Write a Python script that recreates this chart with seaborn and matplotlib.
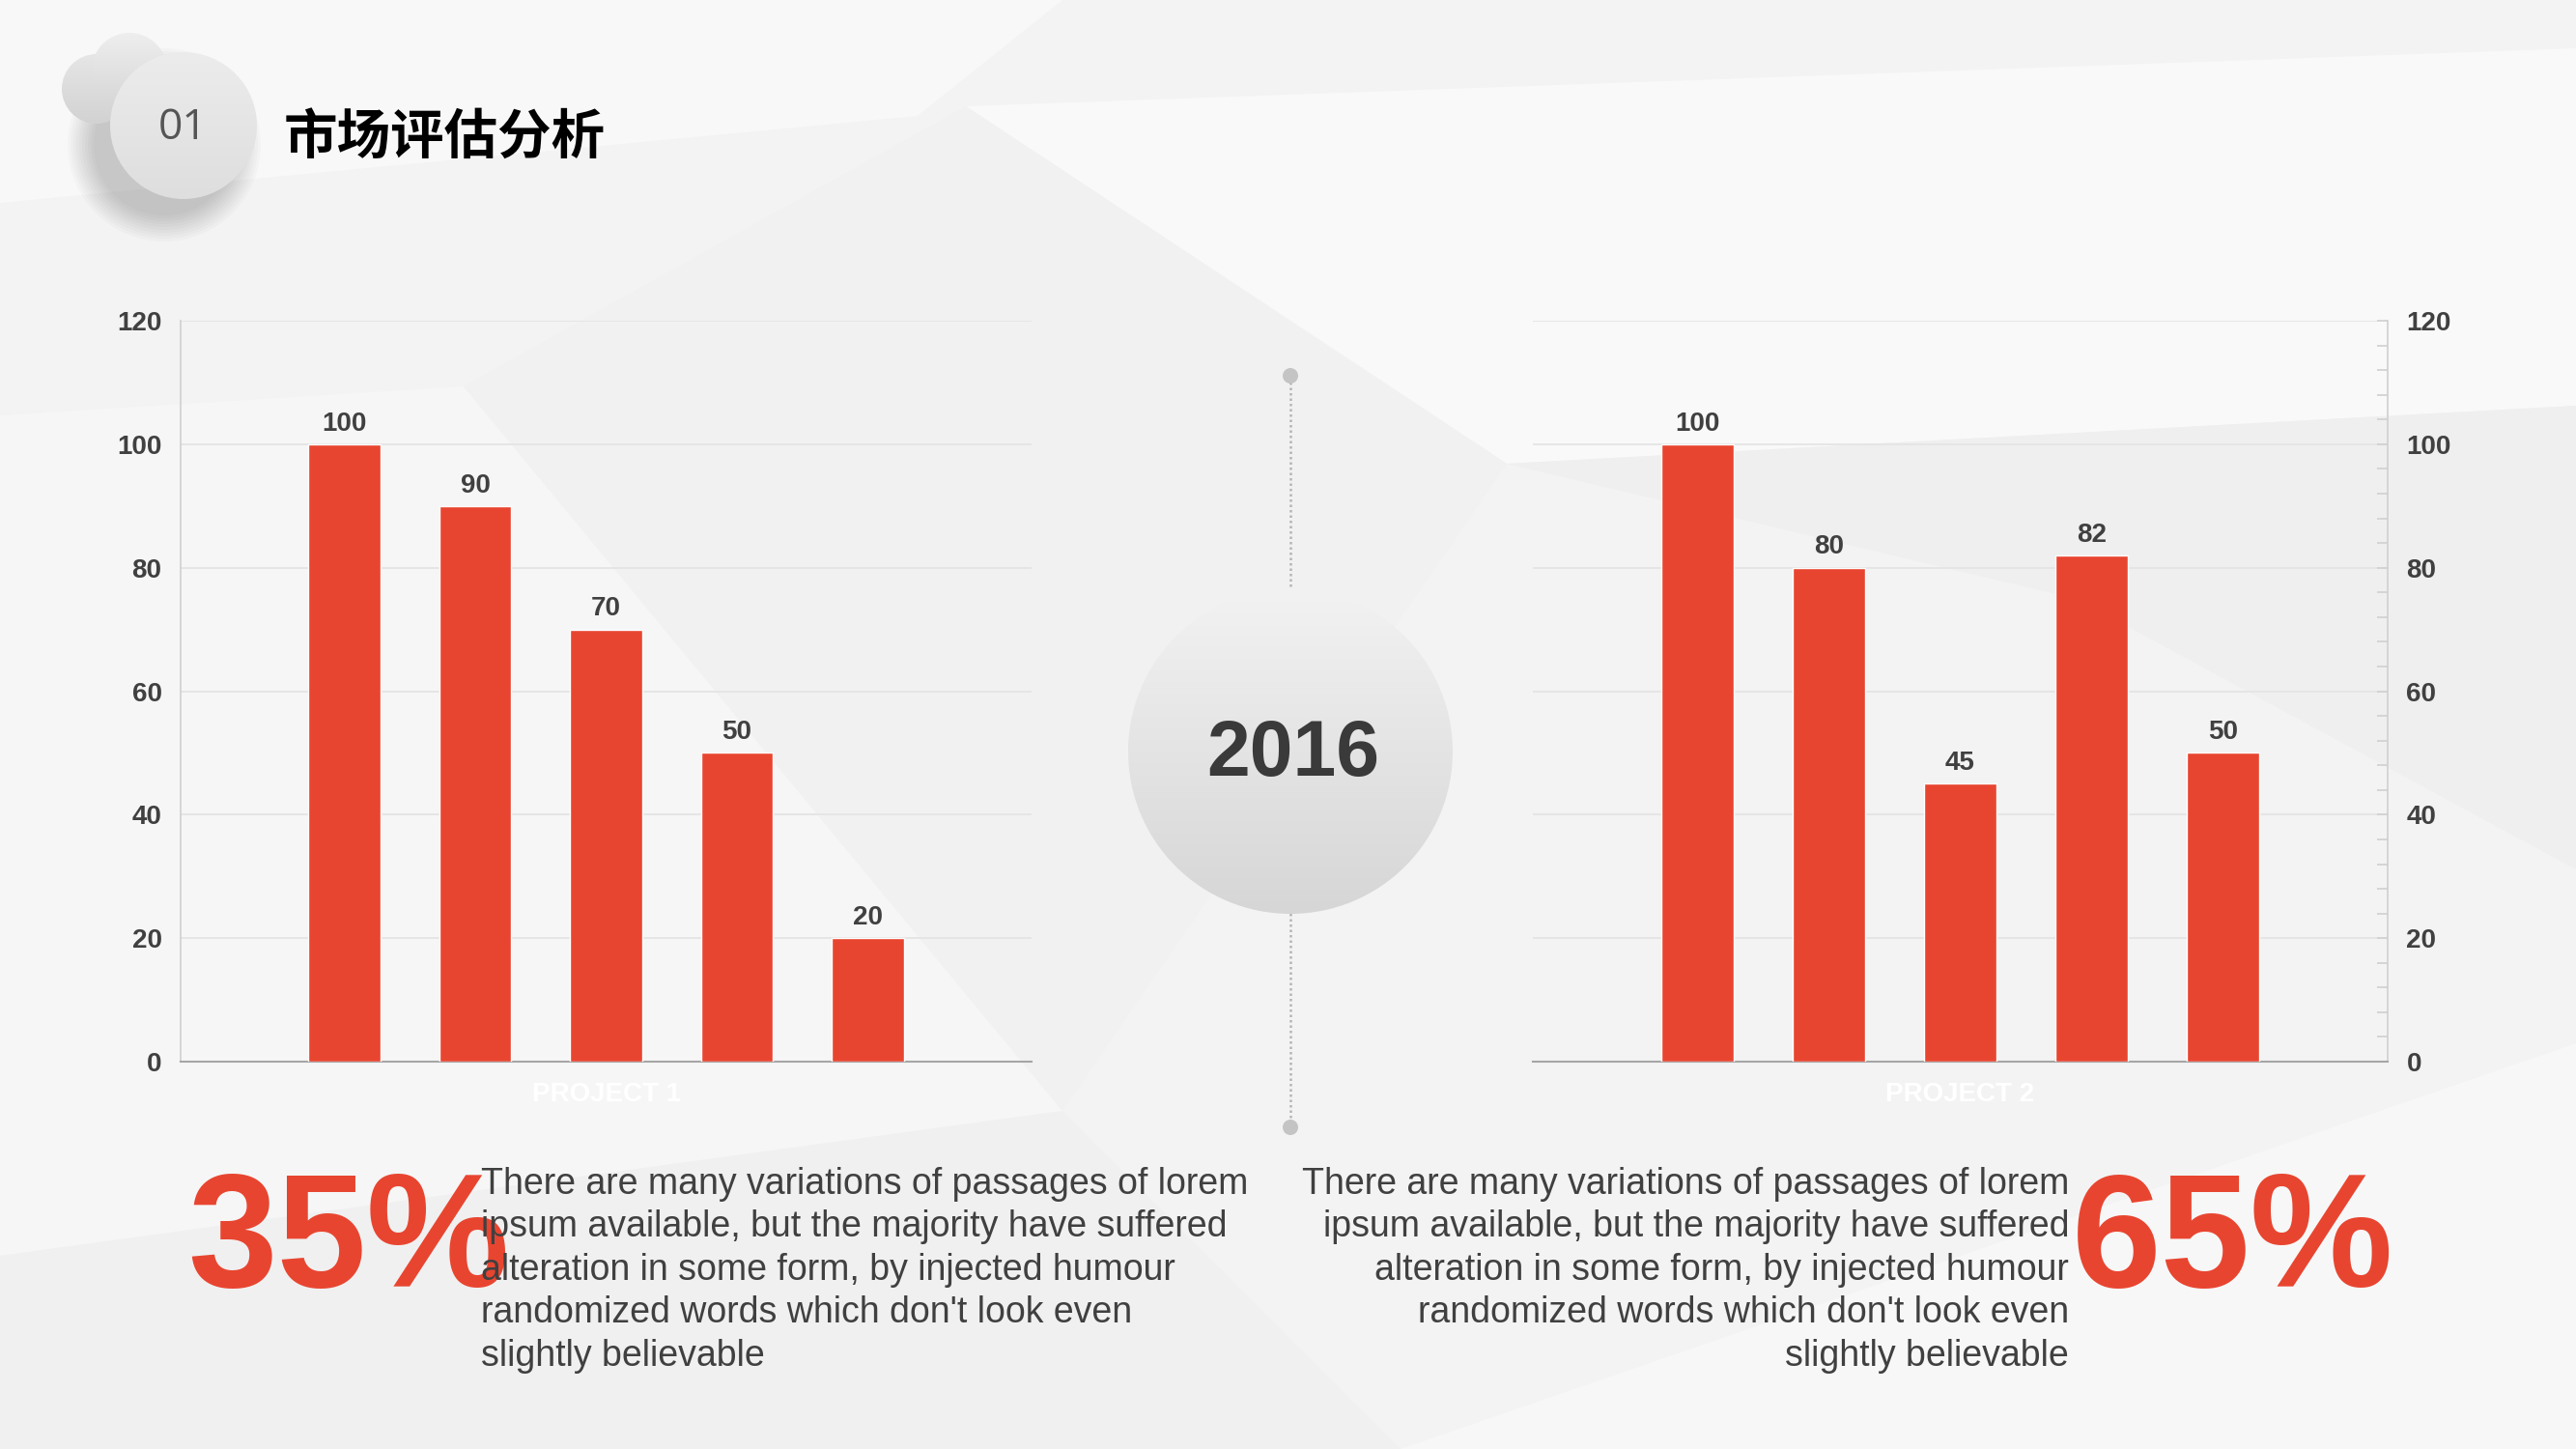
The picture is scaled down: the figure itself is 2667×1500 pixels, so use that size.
import numpy as np
import matplotlib
matplotlib.use('Agg')
import matplotlib.pyplot as plt
import seaborn as sns
from matplotlib.patches import Circle, Polygon
from matplotlib.colors import LinearSegmentedColormap
from matplotlib.ticker import MultipleLocator

# data
categories = ['S1', 'S2', 'S3', 'S4', 'S5']
project1_values = [100, 90, 70, 50, 20]
project2_values = [100, 80, 45, 82, 50]
project_names = ['PROJECT 1', 'PROJECT 2']
percent_labels = ['35%', '65%']
y_ticks = [0, 20, 40, 60, 80, 100, 120]
title = '市场评估分析'
section_no = '01'
year_label = '2016'
body_text = ("There are many variations of passages of lorem\n"
             "ipsum available, but the majority have suffered\n"
             "alteration in some form, by injected humour\n"
             "randomized words which don't look even\n"
             "slightly believable")

RED = '#E84530'
DARK = '#404040'
W, H = 2667, 1500

sns.set_style('white')
plt.rcParams['font.family'] = ['Liberation Sans', 'Noto Sans CJK SC', 'DejaVu Sans']

fig = plt.figure(figsize=(26.67, 15), dpi=100, facecolor='#f3f3f3')

# background layer in pixel coordinates
bg = fig.add_axes([0, 0, 1, 1], zorder=-10)
bg.axis('off')
shapes = [
    ([(0, 0), (1100, 0), (950, 120), (0, 210)], '#f8f8f8'),
    ([(1000, 110), (2667, 50), (2667, 420), (1560, 480)], '#f9f9f9'),
    ([(1560, 480), (2667, 420), (2667, 900), (2150, 620)], '#efefef'),
    ([(0, 430), (480, 400), (1100, 1150), (0, 1300)], '#f6f6f6'),
    ([(0, 1300), (1100, 1150), (1450, 1500), (0, 1500)], '#f0f0f0'),
    ([(1450, 1500), (2667, 1080), (2667, 1500)], '#f7f7f7'),
    ([(480, 400), (1000, 110), (1560, 480), (1100, 1150)], '#f1f1f1'),
]
for pts, c in shapes:
    bg.add_patch(Polygon(pts, closed=True, facecolor=c, edgecolor='none', zorder=0))


def ball(cx, cy, r, top, bottom, z):
    circ = Circle((cx, cy), r, facecolor='none', edgecolor='none', transform=bg.transData)
    bg.add_patch(circ)
    grad = np.linspace(0, 1, 256)[:, None]
    cmap = LinearSegmentedColormap.from_list('g', [top, bottom])
    im = bg.imshow(grad, cmap=cmap, extent=(cx - r, cx + r, cy + r, cy - r),
                   origin='upper', aspect='auto', zorder=z, interpolation='bilinear')
    im.set_clip_path(circ)


def shadow(cx, cy, r, z, alpha=0.025, steps=10, spread=30):
    for i in range(steps):
        bg.add_patch(Circle((cx, cy), r + spread * (1 - i / steps), facecolor='#000000',
                            edgecolor='none', alpha=alpha, zorder=z))


# header balls
shadow(170, 150, 70, 1, alpha=0.02)
ball(100, 92, 36, '#e6e6e6', '#d2d2d2', 2)
ball(134, 73, 39, '#eeeeee', '#d6d6d6', 3)
ball(190, 130, 76, '#ececec', '#dedede', 4)
bg.text(189, 133, section_no, fontsize=32, color='#555555', family='Open Sans',
        ha='center', va='center', zorder=6)
bg.text(294, 143, title, fontsize=40, fontweight='bold', color='black',
        family=['Noto Sans CJK SC', 'DejaVu Sans'], ha='left', va='center', zorder=6)

# center timeline
bg.plot([1336, 1336], [390, 1166], color='#b5b5b5', lw=1.8, ls=(0, (1, 1.2)), zorder=2)
bg.add_patch(Circle((1336, 389), 8, facecolor='#c4c4c4', edgecolor='none', zorder=3))
bg.add_patch(Circle((1336, 1167), 8, facecolor='#c4c4c4', edgecolor='none', zorder=3))
ball(1336, 778, 168, '#f2f2f2', '#d6d6d6', 4)
bg.text(1339, 782, year_label, fontsize=58, fontweight='bold', color='#3a3a3a',
        ha='center', va='center', zorder=6)

# percents and body text
bg.text(194, 1332, percent_labels[0], fontsize=120, fontweight='bold', color=RED,
        ha='left', va='baseline', zorder=5)
bg.text(498, 1208, body_text, fontsize=27, color=DARK, ha='left', va='top',
        linespacing=1.3, zorder=6)
bg.text(2478, 1332, percent_labels[1], fontsize=120, fontweight='bold', color=RED,
        ha='right', va='baseline', zorder=5)
bg.text(2142, 1208, body_text, fontsize=27, color=DARK, ha='right', va='top',
        multialignment='right', linespacing=1.3, zorder=6)

bg.set_xlim(0, W)
bg.set_ylim(H, 0)

# charts
positions = [[0.0701, 0.2673, 0.3304, 0.5113], [0.5950, 0.2673, 0.3319, 0.5113]]
all_values = [project1_values, project2_values]

for k, (pos, vals) in enumerate(zip(positions, all_values)):
    ax = fig.add_axes(pos)
    ax.set_facecolor('none')
    sns.barplot(x=categories, y=vals, ax=ax, color=RED, saturation=1, width=0.55, zorder=3)
    ax.bar_label(ax.containers[0], padding=6, fontsize=20, fontweight='bold', color=DARK)
    ax.set_xlim(-1.25, 5.25)
    ax.set_ylim(0, 120)
    ax.set_yticks(y_ticks)
    ax.yaxis.set_minor_locator(MultipleLocator(4))
    ax.grid(axis='y', color='#e4e4e4', lw=1.3, zorder=0)
    ax.set_xticks([-1.25, 5.25], ['', ''])
    ax.set_xlabel('')
    ax.set_ylabel('')
    ax.tick_params(axis='x', direction='out', length=12, color='#a6a6a6', width=1.3)
    ax.spines['top'].set_visible(False)
    ax.spines['bottom'].set_color('#a6a6a6')
    ax.spines['bottom'].set_linewidth(1.5)
    if k == 0:
        ax.spines['right'].set_visible(False)
        ax.spines['left'].set_color('#d0d0d0')
        ax.spines['left'].set_linewidth(1.2)
    else:
        ax.yaxis.tick_right()
        ax.spines['left'].set_visible(False)
        ax.spines['right'].set_visible(True)
        ax.spines['right'].set_color('#d0d0d0')
        ax.spines['right'].set_linewidth(1.2)
    ax.tick_params(axis='y', which='major', direction='in', length=8, color='#d0d0d0',
                   width=1.2, pad=14, labelsize=20, labelcolor=DARK)
    ax.tick_params(axis='y', which='minor', direction='in', length=8, color='#d0d0d0', width=1.2)
    for tk in ax.yaxis.get_major_ticks():
        tk.label1.set_fontweight('bold')
        tk.label2.set_fontweight('bold')
    ax.text(0.5, -0.044, project_names[k], transform=ax.transAxes, ha='center', va='center',
            fontsize=20, fontweight='bold', color='white')

fig.savefig('out.png', dpi=100, facecolor=fig.get_facecolor())
